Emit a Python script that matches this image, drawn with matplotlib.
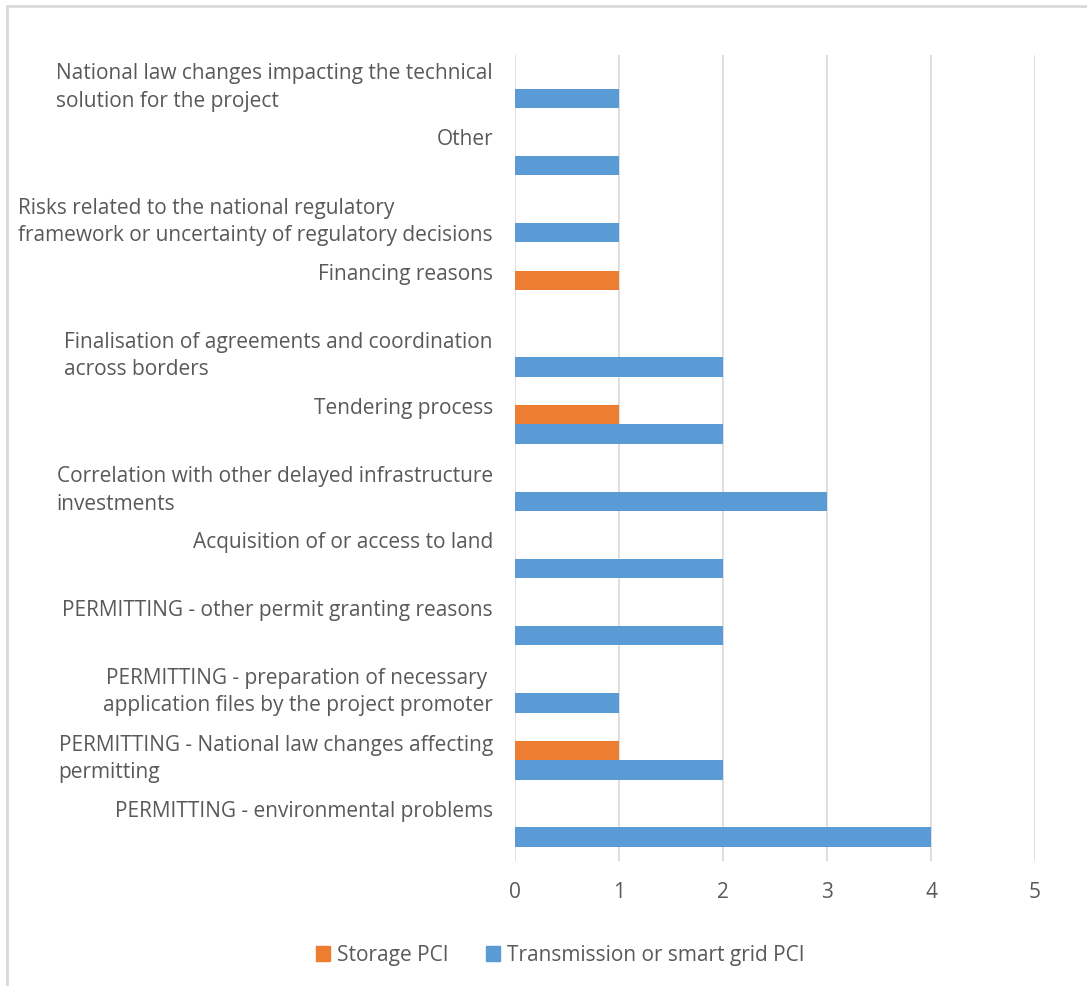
import matplotlib.pyplot as plt
from matplotlib.patches import Rectangle, Patch
import numpy as np

plt.rcParams['font.family'] = ['Open Sans', 'DejaVu Sans']

# categories listed bottom to top
categories = [
    "PERMITTING - environmental problems",
    "PERMITTING - National law changes affecting\npermitting",
    "PERMITTING - preparation of necessary \napplication files by the project promoter",
    "PERMITTING - other permit granting reasons",
    "Acquisition of or access to land",
    "Correlation with other delayed infrastructure\ninvestments",
    "Tendering process",
    "Finalisation of agreements and coordination\nacross borders",
    "Financing reasons",
    "Risks related to the national regulatory\nframework or uncertainty of regulatory decisions",
    "Other",
    "National law changes impacting the technical\nsolution for the project",
]
storage = [0, 1, 0, 0, 0, 0, 1, 0, 1, 0, 0, 0]
transmission = [4, 2, 1, 2, 2, 3, 2, 2, 0, 1, 1, 1]
series_names = ["Storage PCI", "Transmission or smart grid PCI"]
xticks = [0, 1, 2, 3, 4, 5]

c_storage = "#ED7D31"
c_trans = "#5B9BD5"
txt = "#595959"
grid = "#D9D9D9"
fs = 15

W, H = 1087, 986
fig = plt.figure(figsize=(W / 100, H / 100), dpi=100)
ax = fig.add_axes([515 / W, (H - 861) / H, 520 / W, 806 / H])

y = np.arange(len(categories))
bh = 0.29
ax.barh(y + bh / 2, storage, height=bh, color=c_storage, zorder=3)
ax.barh(y - bh / 2, transmission, height=bh, color=c_trans, zorder=3)

ax.set_xlim(0, 5)
ax.set_ylim(-0.5, len(categories) - 0.5)
ax.set_xticks(xticks)
ax.set_xticklabels([str(t) for t in xticks])
ax.set_yticks([])
ax.tick_params(axis='x', length=0, pad=15, labelsize=fs, labelcolor=txt)
ax.grid(axis='x', color=grid, lw=1.2, zorder=0)
for s in ax.spines.values():
    s.set_visible(False)

# category labels (Excel style: single lines sit above centre)
for i, lab in enumerate(categories):
    two = "\n" in lab
    yy = i + (0.015 if two else 0.235)
    ma = 'right' if lab.startswith("PERMITTING - preparation") else 'left'
    ax.text(-22 / 520, yy, lab, transform=ax.get_yaxis_transform(),
            ha='right', va='center', multialignment=ma, fontsize=fs,
            color=txt, linespacing=1.4)

handles = [Patch(color=c_storage), Patch(color=c_trans)]
fig.legend(handles, series_names, loc='center', bbox_to_anchor=(560 / W, 31 / H),
           ncol=2, frameon=False, fontsize=fs, labelcolor=txt,
           handlelength=0.7, handleheight=0.7, handletextpad=0.3, columnspacing=1.8)

fig.patches.append(Rectangle((7 / W, -0.05), 1.1, (H - 6) / H + 0.05,
                             transform=fig.transFigure, fill=False,
                             edgecolor=grid, lw=2))

fig.savefig("out.png", dpi=100)
